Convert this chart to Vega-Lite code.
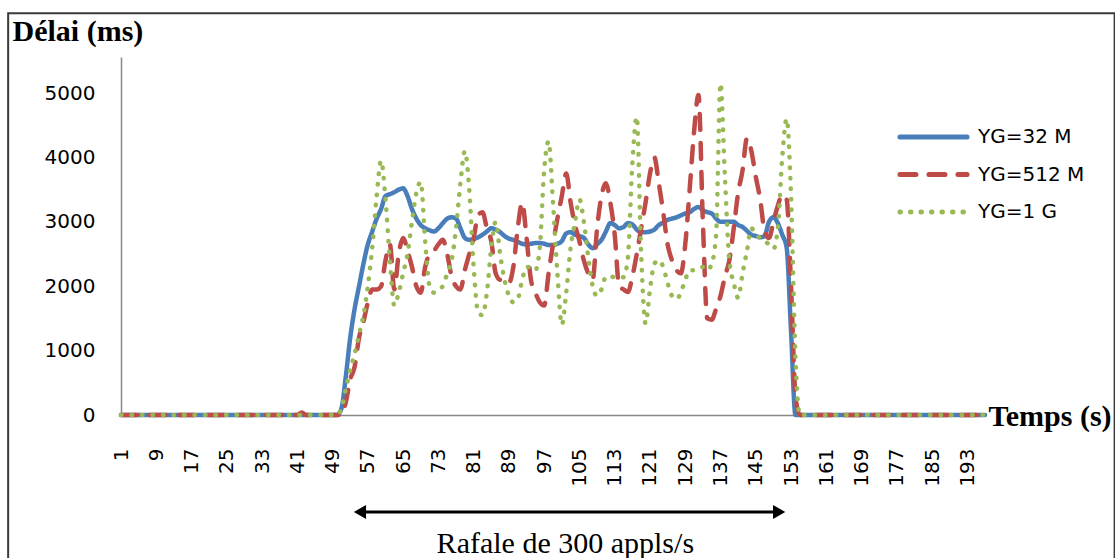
{
"$schema": "https://vega.github.io/schema/vega-lite/v6.json",
"width": 864,
"height": 358,
"autosize": {"type": "none"},
"padding": {"left": 121, "top": 57, "right": 130, "bottom": 143},
"background": "white",
"config": {"view": {"stroke": null},
"axisX": {"labelAngle": 270, "ticks": false, "labelPadding": 33, "labelFont": "DejaVu Sans", "labelFontSize": 20, "labelColor": "#000000",
"domainColor": "#888888", "domainWidth": 1.5, "grid": false, "labelFlush": false, "labelOverlap": false, "labelBound": false,
"titleFont": "Liberation Serif", "titleFontSize": 30, "titleFontWeight": "bold", "titleColor": "#000000",
"titleX": 867, "titleY": 10, "titleAlign": "left", "titleBaseline": "alphabetic", "titleAnchor": "start"},
"axisY": {"format": "d", "ticks": false, "labelPadding": 26, "labelFont": "DejaVu Sans", "labelFontSize": 20, "labelColor": "#000000",
"domainColor": "#888888", "domainWidth": 1.5, "grid": false, "labelFlush": false, "labelOverlap": false,
"titleAngle": 0, "titleFont": "Liberation Serif", "titleFontSize": 30, "titleFontWeight": "bold", "titleColor": "#000000",
"titleX": -109, "titleY": -17, "titleAlign": "left", "titleBaseline": "alphabetic", "titleAnchor": "start"}},
"data": {"values": [
{"t":1,"YG=32 M":0,"YG=512 M":0,"YG=1 G":0},{"t":2,"YG=32 M":0,"YG=512 M":0,"YG=1 G":0},{"t":3,"YG=32 M":0,"YG=512 M":0,"YG=1 G":0},{"t":4,"YG=32 M":0,"YG=512 M":0,"YG=1 G":0},{"t":5,"YG=32 M":0,"YG=512 M":0,"YG=1 G":0},
{"t":6,"YG=32 M":0,"YG=512 M":0,"YG=1 G":0},{"t":7,"YG=32 M":0,"YG=512 M":0,"YG=1 G":0},{"t":8,"YG=32 M":0,"YG=512 M":0,"YG=1 G":0},{"t":9,"YG=32 M":0,"YG=512 M":0,"YG=1 G":0},{"t":10,"YG=32 M":0,"YG=512 M":0,"YG=1 G":0},
{"t":11,"YG=32 M":0,"YG=512 M":0,"YG=1 G":0},{"t":12,"YG=32 M":0,"YG=512 M":0,"YG=1 G":0},{"t":13,"YG=32 M":0,"YG=512 M":0,"YG=1 G":0},{"t":14,"YG=32 M":0,"YG=512 M":0,"YG=1 G":0},{"t":15,"YG=32 M":0,"YG=512 M":0,"YG=1 G":0},
{"t":16,"YG=32 M":0,"YG=512 M":0,"YG=1 G":0},{"t":17,"YG=32 M":0,"YG=512 M":0,"YG=1 G":0},{"t":18,"YG=32 M":0,"YG=512 M":0,"YG=1 G":0},{"t":19,"YG=32 M":0,"YG=512 M":0,"YG=1 G":0},{"t":20,"YG=32 M":0,"YG=512 M":0,"YG=1 G":0},
{"t":21,"YG=32 M":0,"YG=512 M":0,"YG=1 G":0},{"t":22,"YG=32 M":0,"YG=512 M":0,"YG=1 G":0},{"t":23,"YG=32 M":0,"YG=512 M":0,"YG=1 G":0},{"t":24,"YG=32 M":0,"YG=512 M":0,"YG=1 G":0},{"t":25,"YG=32 M":0,"YG=512 M":0,"YG=1 G":0},
{"t":26,"YG=32 M":0,"YG=512 M":0,"YG=1 G":0},{"t":27,"YG=32 M":0,"YG=512 M":0,"YG=1 G":0},{"t":28,"YG=32 M":0,"YG=512 M":0,"YG=1 G":0},{"t":29,"YG=32 M":0,"YG=512 M":0,"YG=1 G":0},{"t":30,"YG=32 M":0,"YG=512 M":0,"YG=1 G":0},
{"t":31,"YG=32 M":0,"YG=512 M":0,"YG=1 G":0},{"t":32,"YG=32 M":0,"YG=512 M":0,"YG=1 G":0},{"t":33,"YG=32 M":0,"YG=512 M":0,"YG=1 G":0},{"t":34,"YG=32 M":0,"YG=512 M":0,"YG=1 G":0},{"t":35,"YG=32 M":0,"YG=512 M":0,"YG=1 G":0},
{"t":36,"YG=32 M":0,"YG=512 M":0,"YG=1 G":0},{"t":37,"YG=32 M":0,"YG=512 M":0,"YG=1 G":0},{"t":38,"YG=32 M":0,"YG=512 M":0,"YG=1 G":0},{"t":39,"YG=32 M":0,"YG=512 M":0,"YG=1 G":0},{"t":40,"YG=32 M":0,"YG=512 M":0,"YG=1 G":0},
{"t":41,"YG=32 M":0,"YG=512 M":0,"YG=1 G":0},{"t":42,"YG=32 M":0,"YG=512 M":40,"YG=1 G":0},{"t":43,"YG=32 M":0,"YG=512 M":0,"YG=1 G":0},{"t":44,"YG=32 M":0,"YG=512 M":0,"YG=1 G":0},{"t":45,"YG=32 M":0,"YG=512 M":0,"YG=1 G":0},
{"t":46,"YG=32 M":0,"YG=512 M":0,"YG=1 G":0},{"t":47,"YG=32 M":0,"YG=512 M":0,"YG=1 G":0},{"t":48,"YG=32 M":0,"YG=512 M":0,"YG=1 G":0},{"t":49,"YG=32 M":0,"YG=512 M":0,"YG=1 G":0},{"t":50,"YG=32 M":0,"YG=512 M":0,"YG=1 G":0},
{"t":51,"YG=32 M":100,"YG=512 M":0,"YG=1 G":100},
{"t":52,"YG=32 M":600,"YG=512 M":200,"YG=1 G":400},
{"t":53,"YG=32 M":1200,"YG=512 M":550,"YG=1 G":700},
{"t":54,"YG=32 M":1650,"YG=512 M":750,"YG=1 G":950},
{"t":55,"YG=32 M":2000,"YG=512 M":1200,"YG=1 G":1250},
{"t":56,"YG=32 M":2350,"YG=512 M":1450,"YG=1 G":1550},
{"t":57,"YG=32 M":2650,"YG=512 M":1750,"YG=1 G":2000},
{"t":58,"YG=32 M":2850,"YG=512 M":1950,"YG=1 G":2600},
{"t":59,"YG=32 M":3050,"YG=512 M":1950,"YG=1 G":3400},
{"t":60,"YG=32 M":3200,"YG=512 M":2000,"YG=1 G":3950},
{"t":61,"YG=32 M":3400,"YG=512 M":2400,"YG=1 G":3350},
{"t":62,"YG=32 M":3430,"YG=512 M":2650,"YG=1 G":2400},
{"t":63,"YG=32 M":3460,"YG=512 M":1950,"YG=1 G":1700},
{"t":64,"YG=32 M":3500,"YG=512 M":2500,"YG=1 G":1900},
{"t":65,"YG=32 M":3520,"YG=512 M":2750,"YG=1 G":2200},
{"t":66,"YG=32 M":3400,"YG=512 M":2550,"YG=1 G":2500},
{"t":67,"YG=32 M":3200,"YG=512 M":2300,"YG=1 G":3000},
{"t":68,"YG=32 M":3050,"YG=512 M":2000,"YG=1 G":3450},
{"t":69,"YG=32 M":2950,"YG=512 M":1900,"YG=1 G":3620},
{"t":70,"YG=32 M":2900,"YG=512 M":2300,"YG=1 G":2700},
{"t":71,"YG=32 M":2870,"YG=512 M":2500,"YG=1 G":2000},
{"t":72,"YG=32 M":2850,"YG=512 M":2550,"YG=1 G":1900},
{"t":73,"YG=32 M":2900,"YG=512 M":2650,"YG=1 G":1950},
{"t":74,"YG=32 M":2980,"YG=512 M":2720,"YG=1 G":2000},
{"t":75,"YG=32 M":3050,"YG=512 M":2500,"YG=1 G":2200},
{"t":76,"YG=32 M":3070,"YG=512 M":2150,"YG=1 G":2400},
{"t":77,"YG=32 M":3050,"YG=512 M":2000,"YG=1 G":2900},
{"t":78,"YG=32 M":2900,"YG=512 M":1950,"YG=1 G":3600},
{"t":79,"YG=32 M":2750,"YG=512 M":2250,"YG=1 G":4100},
{"t":80,"YG=32 M":2720,"YG=512 M":2500,"YG=1 G":3500},
{"t":81,"YG=32 M":2730,"YG=512 M":2750,"YG=1 G":2300},
{"t":82,"YG=32 M":2760,"YG=512 M":3100,"YG=1 G":1600},
{"t":83,"YG=32 M":2800,"YG=512 M":3150,"YG=1 G":1550},
{"t":84,"YG=32 M":2850,"YG=512 M":2900,"YG=1 G":1900},
{"t":85,"YG=32 M":2900,"YG=512 M":2700,"YG=1 G":2600},
{"t":86,"YG=32 M":2880,"YG=512 M":2200,"YG=1 G":3000},
{"t":87,"YG=32 M":2840,"YG=512 M":2100,"YG=1 G":2500},
{"t":88,"YG=32 M":2780,"YG=512 M":2100,"YG=1 G":2100},
{"t":89,"YG=32 M":2740,"YG=512 M":2050,"YG=1 G":1850},
{"t":90,"YG=32 M":2720,"YG=512 M":2300,"YG=1 G":1750},
{"t":91,"YG=32 M":2690,"YG=512 M":2900,"YG=1 G":1800},
{"t":92,"YG=32 M":2660,"YG=512 M":3300,"YG=1 G":2100},
{"t":93,"YG=32 M":2650,"YG=512 M":2750,"YG=1 G":2300},
{"t":94,"YG=32 M":2660,"YG=512 M":2100,"YG=1 G":2300},
{"t":95,"YG=32 M":2670,"YG=512 M":1900,"YG=1 G":2250},
{"t":96,"YG=32 M":2670,"YG=512 M":1750,"YG=1 G":2600},
{"t":97,"YG=32 M":2660,"YG=512 M":1700,"YG=1 G":3800},
{"t":98,"YG=32 M":2640,"YG=512 M":2200,"YG=1 G":4250},
{"t":99,"YG=32 M":2640,"YG=512 M":2650,"YG=1 G":3300},
{"t":100,"YG=32 M":2660,"YG=512 M":3050,"YG=1 G":2200},
{"t":101,"YG=32 M":2700,"YG=512 M":3400,"YG=1 G":1400},
{"t":102,"YG=32 M":2820,"YG=512 M":3750,"YG=1 G":1900},
{"t":103,"YG=32 M":2840,"YG=512 M":3300,"YG=1 G":2600},
{"t":104,"YG=32 M":2800,"YG=512 M":2950,"YG=1 G":3000},
{"t":105,"YG=32 M":2780,"YG=512 M":2700,"YG=1 G":3350},
{"t":106,"YG=32 M":2750,"YG=512 M":2400,"YG=1 G":3000},
{"t":107,"YG=32 M":2650,"YG=512 M":2200,"YG=1 G":2450},
{"t":108,"YG=32 M":2590,"YG=512 M":2100,"YG=1 G":2000},
{"t":109,"YG=32 M":2650,"YG=512 M":2900,"YG=1 G":1850},
{"t":110,"YG=32 M":2720,"YG=512 M":3400,"YG=1 G":1950},
{"t":111,"YG=32 M":2850,"YG=512 M":3600,"YG=1 G":2150},
{"t":112,"YG=32 M":2980,"YG=512 M":3300,"YG=1 G":2150},
{"t":113,"YG=32 M":2950,"YG=512 M":2800,"YG=1 G":2140},
{"t":114,"YG=32 M":2900,"YG=512 M":2000,"YG=1 G":2140},
{"t":115,"YG=32 M":2920,"YG=512 M":1950,"YG=1 G":2140},
{"t":116,"YG=32 M":2980,"YG=512 M":1910,"YG=1 G":2450},
{"t":117,"YG=32 M":2960,"YG=512 M":2150,"YG=1 G":3900},
{"t":118,"YG=32 M":2880,"YG=512 M":2500,"YG=1 G":4630},
{"t":119,"YG=32 M":2840,"YG=512 M":2900,"YG=1 G":2500},
{"t":120,"YG=32 M":2840,"YG=512 M":3300,"YG=1 G":1420},
{"t":121,"YG=32 M":2850,"YG=512 M":3750,"YG=1 G":1950},
{"t":122,"YG=32 M":2880,"YG=512 M":4000,"YG=1 G":2350},
{"t":123,"YG=32 M":2950,"YG=512 M":3600,"YG=1 G":2400},
{"t":124,"YG=32 M":2990,"YG=512 M":3150,"YG=1 G":2300},
{"t":125,"YG=32 M":3030,"YG=512 M":2650,"YG=1 G":2050},
{"t":126,"YG=32 M":3050,"YG=512 M":2400,"YG=1 G":1850},
{"t":127,"YG=32 M":3070,"YG=512 M":2250,"YG=1 G":1800},
{"t":128,"YG=32 M":3100,"YG=512 M":2200,"YG=1 G":1900},
{"t":129,"YG=32 M":3130,"YG=512 M":2650,"YG=1 G":2100},
{"t":130,"YG=32 M":3150,"YG=512 M":3500,"YG=1 G":2250},
{"t":131,"YG=32 M":3200,"YG=512 M":4400,"YG=1 G":2250},
{"t":132,"YG=32 M":3230,"YG=512 M":4970,"YG=1 G":2280},
{"t":133,"YG=32 M":3180,"YG=512 M":3000,"YG=1 G":2300},
{"t":134,"YG=32 M":3150,"YG=512 M":1500,"YG=1 G":2250},
{"t":135,"YG=32 M":3130,"YG=512 M":1480,"YG=1 G":2350},
{"t":136,"YG=32 M":3050,"YG=512 M":1650,"YG=1 G":2800},
{"t":137,"YG=32 M":3000,"YG=512 M":1850,"YG=1 G":5150},
{"t":138,"YG=32 M":3000,"YG=512 M":2150,"YG=1 G":3700},
{"t":139,"YG=32 M":3000,"YG=512 M":2400,"YG=1 G":2400},
{"t":140,"YG=32 M":3000,"YG=512 M":2900,"YG=1 G":2050},
{"t":141,"YG=32 M":2950,"YG=512 M":3450,"YG=1 G":1820},
{"t":142,"YG=32 M":2920,"YG=512 M":3800,"YG=1 G":2200},
{"t":143,"YG=32 M":2860,"YG=512 M":4300,"YG=1 G":2550},
{"t":144,"YG=32 M":2800,"YG=512 M":4100,"YG=1 G":2900},
{"t":145,"YG=32 M":2780,"YG=512 M":3700,"YG=1 G":2800},
{"t":146,"YG=32 M":2760,"YG=512 M":3350,"YG=1 G":2750},
{"t":147,"YG=32 M":2780,"YG=512 M":2850,"YG=1 G":2700},
{"t":148,"YG=32 M":3000,"YG=512 M":2750,"YG=1 G":2650},
{"t":149,"YG=32 M":3070,"YG=512 M":3000,"YG=1 G":2580},
{"t":150,"YG=32 M":2980,"YG=512 M":3250,"YG=1 G":2900},
{"t":151,"YG=32 M":2800,"YG=512 M":3420,"YG=1 G":4000},
{"t":152,"YG=32 M":2600,"YG=512 M":3350,"YG=1 G":4600},
{"t":153,"YG=32 M":1300,"YG=512 M":2000,"YG=1 G":3400},
{"t":154,"YG=32 M":0,"YG=512 M":300,"YG=1 G":900},
{"t":155,"YG=32 M":0,"YG=512 M":0,"YG=1 G":0},
{"t":156,"YG=32 M":0,"YG=512 M":0,"YG=1 G":0},{"t":157,"YG=32 M":0,"YG=512 M":0,"YG=1 G":0},{"t":158,"YG=32 M":0,"YG=512 M":0,"YG=1 G":0},{"t":159,"YG=32 M":0,"YG=512 M":0,"YG=1 G":0},{"t":160,"YG=32 M":0,"YG=512 M":0,"YG=1 G":0},
{"t":161,"YG=32 M":0,"YG=512 M":0,"YG=1 G":0},{"t":162,"YG=32 M":0,"YG=512 M":0,"YG=1 G":0},{"t":163,"YG=32 M":0,"YG=512 M":0,"YG=1 G":0},{"t":164,"YG=32 M":0,"YG=512 M":0,"YG=1 G":0},{"t":165,"YG=32 M":0,"YG=512 M":0,"YG=1 G":0},
{"t":166,"YG=32 M":0,"YG=512 M":0,"YG=1 G":0},{"t":167,"YG=32 M":0,"YG=512 M":0,"YG=1 G":0},{"t":168,"YG=32 M":0,"YG=512 M":0,"YG=1 G":0},{"t":169,"YG=32 M":0,"YG=512 M":0,"YG=1 G":0},{"t":170,"YG=32 M":0,"YG=512 M":0,"YG=1 G":0},
{"t":171,"YG=32 M":0,"YG=512 M":0,"YG=1 G":0},{"t":172,"YG=32 M":0,"YG=512 M":0,"YG=1 G":0},{"t":173,"YG=32 M":0,"YG=512 M":0,"YG=1 G":0},{"t":174,"YG=32 M":0,"YG=512 M":0,"YG=1 G":0},{"t":175,"YG=32 M":0,"YG=512 M":0,"YG=1 G":0},
{"t":176,"YG=32 M":0,"YG=512 M":0,"YG=1 G":0},{"t":177,"YG=32 M":0,"YG=512 M":0,"YG=1 G":0},{"t":178,"YG=32 M":0,"YG=512 M":0,"YG=1 G":0},{"t":179,"YG=32 M":0,"YG=512 M":0,"YG=1 G":0},{"t":180,"YG=32 M":0,"YG=512 M":0,"YG=1 G":0},
{"t":181,"YG=32 M":0,"YG=512 M":0,"YG=1 G":0},{"t":182,"YG=32 M":0,"YG=512 M":0,"YG=1 G":0},{"t":183,"YG=32 M":0,"YG=512 M":0,"YG=1 G":0},{"t":184,"YG=32 M":0,"YG=512 M":0,"YG=1 G":0},{"t":185,"YG=32 M":0,"YG=512 M":0,"YG=1 G":0},
{"t":186,"YG=32 M":0,"YG=512 M":0,"YG=1 G":0},{"t":187,"YG=32 M":0,"YG=512 M":0,"YG=1 G":0},{"t":188,"YG=32 M":0,"YG=512 M":0,"YG=1 G":0},{"t":189,"YG=32 M":0,"YG=512 M":0,"YG=1 G":0},{"t":190,"YG=32 M":0,"YG=512 M":0,"YG=1 G":0},
{"t":191,"YG=32 M":0,"YG=512 M":0,"YG=1 G":0},{"t":192,"YG=32 M":0,"YG=512 M":0,"YG=1 G":0},{"t":193,"YG=32 M":0,"YG=512 M":0,"YG=1 G":0},{"t":194,"YG=32 M":0,"YG=512 M":0,"YG=1 G":0},{"t":195,"YG=32 M":0,"YG=512 M":0,"YG=1 G":0},
{"t":196,"YG=32 M":0,"YG=512 M":0,"YG=1 G":0},{"t":197,"YG=32 M":0,"YG=512 M":0,"YG=1 G":0}
]},
"layer": [
{
"transform": [{"fold": ["YG=32 M", "YG=512 M", "YG=1 G"], "as": ["serie", "delai"]}],
"mark": {"type": "line", "strokeWidth": 4.5, "strokeCap": "round", "strokeJoin": "round", "interpolate": "monotone"},
"encoding": {
"x": {"field": "t", "type": "quantitative",
"scale": {"domain": [1, 197], "nice": false, "zero": false},
"axis": {"values": [1,9,17,25,33,41,49,57,65,73,81,89,97,105,113,121,129,137,145,153,161,169,177,185,193], "labelOverlap": false, "title": "Temps (s)"}},
"y": {"field": "delai", "type": "quantitative",
"scale": {"domain": [0, 5560], "nice": false},
"axis": {"values": [0,1000,2000,3000,4000,5000], "title": "Délai (ms)"}},
"color": {"field": "serie", "type": "nominal",
"scale": {"domain": ["YG=32 M", "YG=512 M", "YG=1 G"], "range": ["#4A7EBB", "#BE4B48", "#98B954"]},
"legend": {"title": null, "orient": "none", "legendX": 776, "legendY": 70, "symbolType": "stroke", "symbolSize": 4500, "symbolStrokeWidth": 5,
"clipHeight": 20, "rowPadding": 17.5, "labelFont": "DejaVu Sans", "labelFontSize": 20, "labelColor": "#000000", "labelOffset": 8, "padding": 0,
"encode": {"symbols": {"update": {"strokeCap": {"value": "round"}}}}}},
"strokeDash": {"field": "serie", "type": "nominal",
"scale": {"domain": ["YG=32 M", "YG=512 M", "YG=1 G"], "range": [[1, 0], [16, 13], [0.5, 10]]},
"legend": {"title": null, "orient": "none", "legendX": 776, "legendY": 70, "symbolType": "stroke", "symbolSize": 4500, "symbolStrokeWidth": 5,
"clipHeight": 20, "rowPadding": 17.5, "labelFont": "DejaVu Sans", "labelFontSize": 20, "labelColor": "#000000", "labelOffset": 8, "padding": 0,
"encode": {"symbols": {"update": {"strokeCap": {"value": "round"}}}}}}
}
},
{
"data": {"values": [{}]},
"mark": {"type": "rect", "fill": null, "stroke": "#3a3a3a", "strokeWidth": 2},
"encoding": {
"x": {"datum": -24.6, "type": "quantitative", "axis": {"values": [1,9,17,25,33,41,49,57,65,73,81,89,97,105,113,121,129,137,145,153,161,169,177,185,193], "labelOverlap": false}},
"x2": {"datum": 226.4},
"y": {"datum": 6240, "type": "quantitative", "axis": {"values": [0,1000,2000,3000,4000,5000]}},
"y2": {"datum": -2300}
}
},
{
"data": {"values": [{}]},
"mark": {"type": "rule", "strokeWidth": 3, "color": "#000000"},
"encoding": {
"x": {"datum": 55.2, "type": "quantitative", "axis": {"values": [1,9,17,25,33,41,49,57,65,73,81,89,97,105,113,121,129,137,145,153,161,169,177,185,193], "labelOverlap": false}},
"x2": {"datum": 150.3},
"y": {"datum": -1506, "type": "quantitative", "axis": {"values": [0,1000,2000,3000,4000,5000]}}
}
},
{
"data": {"values": [{}]},
"mark": {"type": "point", "shape": "triangle-left", "filled": true, "color": "#000000", "size": 200, "opacity": 1},
"encoding": {
"x": {"datum": 55.2, "type": "quantitative", "axis": {"values": [1,9,17,25,33,41,49,57,65,73,81,89,97,105,113,121,129,137,145,153,161,169,177,185,193], "labelOverlap": false}},
"y": {"datum": -1506, "type": "quantitative", "axis": {"values": [0,1000,2000,3000,4000,5000]}}
}
},
{
"data": {"values": [{}]},
"mark": {"type": "point", "shape": "triangle-right", "filled": true, "color": "#000000", "size": 200, "opacity": 1},
"encoding": {
"x": {"datum": 150.3, "type": "quantitative", "axis": {"values": [1,9,17,25,33,41,49,57,65,73,81,89,97,105,113,121,129,137,145,153,161,169,177,185,193], "labelOverlap": false}},
"y": {"datum": -1506, "type": "quantitative", "axis": {"values": [0,1000,2000,3000,4000,5000]}}
}
},
{
"data": {"values": [{}]},
"mark": {"type": "text", "text": "Rafale de 300 appls/s", "font": "Liberation Serif", "fontSize": 30, "align": "center", "baseline": "alphabetic", "color": "#000000"},
"encoding": {
"x": {"datum": 101.8, "type": "quantitative", "axis": {"values": [1,9,17,25,33,41,49,57,65,73,81,89,97,105,113,121,129,137,145,153,161,169,177,185,193], "labelOverlap": false}},
"y": {"datum": -2140, "type": "quantitative", "axis": {"values": [0,1000,2000,3000,4000,5000]}}
}
}
]
}
